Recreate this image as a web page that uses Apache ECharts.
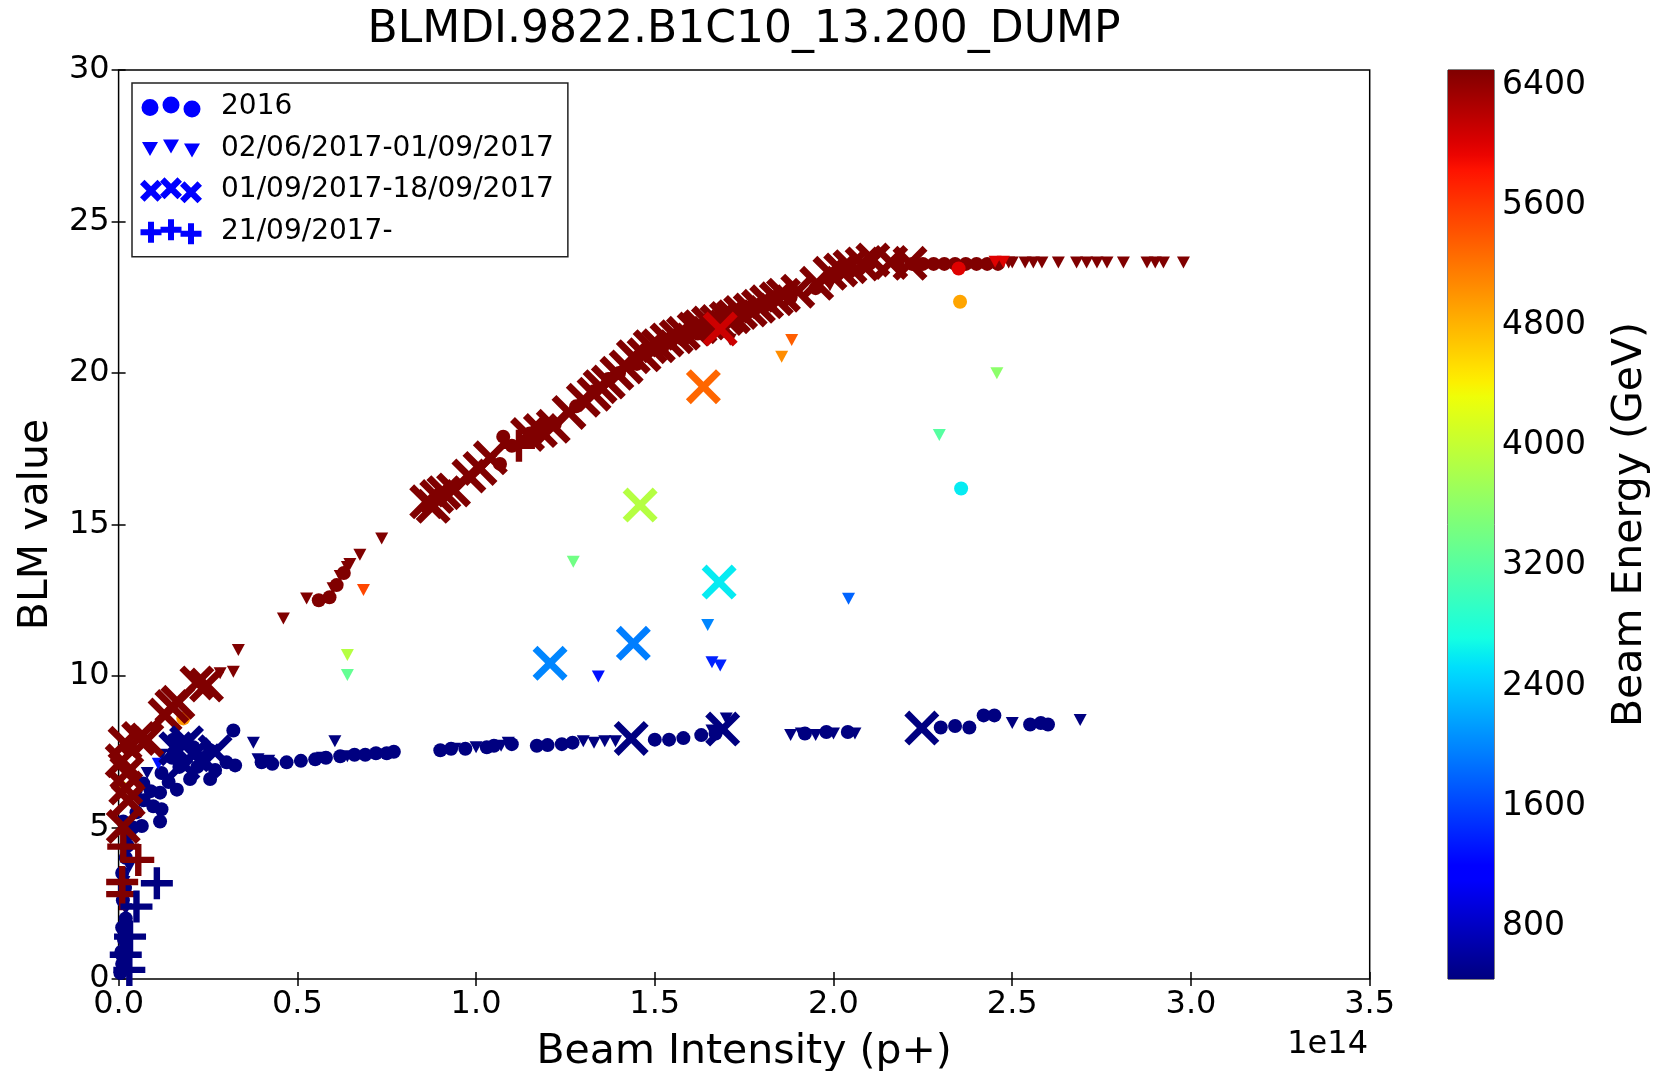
<!DOCTYPE html>
<html><head><meta charset="utf-8">
<script src="https://cdn.jsdelivr.net/npm/echarts@6/dist/echarts.min.js"></script>
<style>html,body{margin:0;padding:0;background:#fff}#c{width:1661px;height:1071px}</style>
</head><body><div id="c"></div>
<script>
// ---------------- DATA ----------------
const titleText = 'BLMDI.9822.B1C10_13.200_DUMP';
const seriesNames = ['2016', '02/06/2017-01/09/2017', '01/09/2017-18/09/2017', '21/09/2017-'];
const xRange = [0, 3.5];          // in units of 1e14 p+
const xStep = 0.5;
const yRange = [0, 30];
const yStep = 5;
const energyRange = [450, 6500];  // GeV
const energyTicks = [800, 1600, 2400, 3200, 4000, 4800, 5600, 6400];

// [intensity (1e14), BLM value, beam energy GeV]
const data2016 = [
  [0.005,0.2,450],[0.01,0.5,450],[0.008,0.9,450],[0.015,1.3,450],[0.01,1.7,450],[0.02,2.0,450],
  [0.012,2.6,450],[0.018,3.0,450],[0.01,3.5,450],[0.02,4.0,450],[0.025,4.4,450],[0.03,4.8,450],
  [0.013,5.2,450],[0.04,5.0,450],[0.065,5.05,450],[0.097,5.7,450],[0.12,5.6,450],[0.116,5.2,450],
  [0.05,5.5,450],[0.07,5.9,450],[0.069,6.45,450],[0.09,6.2,450],[0.116,6.15,450],[0.163,6.25,450],
  [0.14,6.5,450],[0.2,6.6,450],[0.256,6.6,450],[0.12,6.8,450],[0.17,7.0,450],[0.22,7.0,450],
  [0.27,6.9,450],[0.302,7.15,450],[0.326,7.05,450],[0.24,7.3,450],[0.15,7.3,450],[0.209,7.65,450],
  [0.256,7.55,450],[0.153,7.9,450],[0.321,8.2,450],
  [0.40,7.15,450],[0.43,7.1,450],[0.47,7.15,450],[0.51,7.2,450],[0.55,7.25,450],[0.58,7.3,450],
  [0.62,7.35,450],[0.66,7.4,450],[0.69,7.4,450],[0.72,7.45,450],[0.75,7.45,450],[0.77,7.5,450],
  [0.90,7.55,450],[0.93,7.6,450],[0.97,7.6,450],[1.03,7.65,450],[1.05,7.7,450],[1.10,7.75,450],
  [1.17,7.7,450],[1.20,7.72,450],[1.24,7.75,450],[1.27,7.8,450],[1.50,7.9,450],[1.54,7.9,450],
  [1.58,7.95,450],[1.63,8.05,450],[1.67,8.1,450],[1.92,8.1,450],[1.98,8.15,450],[2.04,8.15,450],
  [2.30,8.3,450],[2.34,8.35,450],[2.38,8.3,450],[2.42,8.7,450],[2.45,8.7,450],[2.55,8.4,450],
  [2.58,8.45,450],[2.60,8.4,450],
  [0.56,12.5,6500],[0.59,12.6,6500],[0.61,13.0,6500],[0.63,13.4,6500],[1.067,17.0,6500],[1.076,17.9,6500],
  [1.10,17.6,6500],[1.15,18.0,6500],[1.22,18.3,6500],[1.28,18.9,6500],[1.33,19.4,6500],[1.37,19.8,6500],
  [1.40,20.0,6500],[1.45,20.3,6500],[1.52,20.8,6500],[1.58,21.1,6500],[1.62,21.3,6500],[1.70,21.7,6500],
  [1.75,21.9,6500],[1.82,22.3,6500],[1.88,22.5,6500],[1.95,22.8,6500],[2.00,23.2,6500],[2.05,23.4,6500],
  [2.10,23.6,6500],[2.18,23.6,6500],[2.22,23.6,6500],[2.25,23.6,6500],[2.28,23.6,6500],[2.31,23.6,6500],
  [2.34,23.6,6500],[2.37,23.6,6500],[2.40,23.6,6500],[2.43,23.6,6500],[2.46,23.6,6500],
  [2.35,23.45,6000],[2.354,22.35,4900],[2.357,16.19,2600],[0.009,6.3,4400],[0.181,8.6,5000]
];
const dataJunAug2017 = [
  [0.284,10.09,6500],[0.321,10.14,6500],[0.335,10.86,6500],[0.461,11.9,6500],[0.526,12.56,6500],
  [0.60,12.9,6500],[0.62,13.3,6500],[0.64,13.6,6500],[0.647,13.7,6500],[0.675,14.0,6500],[0.736,14.54,6500],
  [1.711,21.1,6500],[1.99,22.9,6500],
  [2.49,23.65,6500],[2.50,23.65,6500],[2.536,23.65,6500],[2.559,23.65,6500],[2.583,23.65,6500],
  [2.629,23.65,6500],[2.68,23.65,6500],[2.708,23.65,6500],[2.737,23.65,6500],[2.765,23.65,6500],
  [2.811,23.65,6500],[2.877,23.65,6500],[2.90,23.65,6500],[2.923,23.65,6500],[2.979,23.65,6500],
  [0.377,7.8,450],[0.39,7.25,450],[0.42,7.2,450],[0.605,7.85,450],[0.57,7.3,450],[0.64,7.35,450],
  [0.94,7.6,450],[1.0,7.65,450],[1.07,7.7,450],[1.09,7.8,450],[1.30,7.85,450],[1.33,7.8,450],
  [1.36,7.85,450],[1.39,7.85,450],[1.66,8.2,450],[1.70,8.6,450],[1.88,8.05,450],[1.91,8.1,450],
  [1.95,8.05,450],[2.0,8.1,450],[2.06,8.1,450],[2.50,8.45,450],[2.69,8.55,450],
  [0.01,0.5,450],[0.02,1.5,450],[0.015,3.2,450],[0.03,3.7,450],[0.02,2.3,450],[0.05,6.0,450],
  [0.08,6.8,450],[0.12,7.4,450],
  [0.111,7.1,1300],[0.64,10.69,3900],[0.64,10.03,3300],[0.685,12.84,5500],[1.272,13.77,3400],
  [1.342,9.98,1300],[1.648,11.68,2000],[1.66,10.45,1400],[1.683,10.35,1400],[2.042,12.55,1800],
  [1.855,20.54,5050],[1.883,21.09,5350],[2.457,19.99,3600],[2.296,17.95,3200],
  [2.452,23.67,6000],[2.475,23.67,6000]
];
const dataSep2017a = [
  [0.018,7.78,6500],[0.023,6.8,6500],[0.027,5.9,6500],[0.013,5.03,6500],[0.01,7.2,6500],[0.02,6.3,6500],
  [0.056,7.94,6500],[0.079,7.89,6500],[0.13,8.71,6500],[0.149,8.99,6500],[0.166,9.13,6500],
  [0.219,9.77,6500],[0.246,9.7,6500],
  [0.862,15.75,6500],[0.88,15.6,6500],[0.89,15.92,6500],[0.91,16.05,6500],[0.937,16.14,6500],
  [0.98,16.6,6500],[1.011,16.85,6500],[1.04,17.2,6500],[1.144,17.97,6500],[1.18,18.1,6500],
  [1.216,18.24,6500],[1.26,18.7,6500],[1.30,19.1,6500],[1.33,19.3,6500],[1.347,19.55,6500],
  [1.37,19.7,6500],[1.394,19.99,6500],[1.42,20.2,6500],[1.44,20.54,6500],[1.47,20.6,6500],
  [1.487,20.87,6500],[1.51,20.9,6500],[1.534,21.09,6500],[1.56,21.2,6500],[1.58,21.31,6500],
  [1.61,21.45,6500],[1.627,21.53,6500],[1.65,21.65,6500],[1.674,21.7,6500],[1.70,21.8,6500],
  [1.72,21.86,6500],[1.74,22.0,6500],[1.767,22.08,6500],[1.79,22.2,6500],[1.813,22.35,6500],
  [1.84,22.45,6500],[1.86,22.57,6500],[1.90,22.7,6500],[1.953,22.96,6500],[1.99,23.29,6500],
  [2.02,23.4,6500],[2.046,23.51,6500],[2.08,23.6,6500],[2.11,23.73,6500],[2.16,23.65,6500],
  [2.214,23.62,6500],
  [1.683,21.45,6100],[1.636,19.55,5300],[1.459,15.64,3900],[1.68,13.1,2600],[1.207,10.42,2000],
  [1.44,11.08,1950],
  [1.434,7.94,450],[1.69,8.25,450],[2.247,8.28,450],[0.16,7.6,450],[0.19,7.8,450],[0.21,7.4,450],
  [0.24,7.2,450],[0.27,7.5,450],[0.18,7.1,450]
];
const dataSep2017b = [
  [1.12,17.6,6500],[0.055,3.93,6500],[0.013,4.37,6500],[0.01,3.2,6500],[0.01,2.8,6500],
  [0.107,3.16,450],[0.05,2.39,450],[0.032,1.4,450],[0.02,0.8,450],[0.03,0.3,450]
];

// ---------------- COLORMAP (matplotlib jet) ----------------
const jetSeg = {
  r: [[0,0],[0.35,0],[0.66,1],[0.89,1],[1,0.5]],
  g: [[0,0],[0.125,0],[0.375,1],[0.64,1],[0.91,0],[1,0]],
  b: [[0,0.5],[0.11,1],[0.34,1],[0.65,0],[1,0]]
};
function seg(arr, t) {
  for (let i = 1; i < arr.length; i++) {
    if (t <= arr[i][0]) { const [t0,v0] = arr[i-1], [t1,v1] = arr[i]; return v0 + (v1-v0)*(t-t0)/(t1-t0); }
  }
  return arr[arr.length-1][1];
}
function jet(t) {
  const c = [seg(jetSeg.r,t), seg(jetSeg.g,t), seg(jetSeg.b,t)].map(v => Math.round(v*255));
  return 'rgb(' + c.join(',') + ')';
}
const NC = 64, jetColors = [], jetStops = [];
for (let i = 0; i <= NC; i++) { jetColors.push(jet(i/NC)); jetStops.push({offset: i/NC, color: jet(i/NC)}); }

// ---------------- SYMBOLS ----------------
const X_PATH = 'path://M0,14 L14,0 L50,36 L86,0 L100,14 L64,50 L100,86 L86,100 L50,64 L14,100 L0,86 L36,50 Z';
const PLUS_PATH = 'path://M40,0 H60 V40 H100 V60 H60 V100 H40 V60 H0 V40 H40 Z';
const IW = 62, IH = 26;
const bboxPts = 'M0,0 L0.01,0 L0,0.01 Z M' + IW + ',' + IH + ' L' + (IW-0.01) + ',' + IH + ' L' + IW + ',' + (IH-0.01) + ' Z ';
const icX = [10, 31, 52], icY = [13.5, 11, 15];
function circ(cx, cy, r) { return 'M' + (cx-r) + ',' + cy + ' A' + r + ',' + r + ' 0 1,0 ' + (cx+r) + ',' + cy + ' A' + r + ',' + r + ' 0 1,0 ' + (cx-r) + ',' + cy + ' Z '; }
function tri(cx, cy, w, h) { return 'M' + (cx-w/2) + ',' + (cy-h/2) + ' L' + (cx+w/2) + ',' + (cy-h/2) + ' L' + cx + ',' + (cy+h/2) + ' Z '; }
function xm(cx, cy, h, d) {
  const p = [[cx-h,cy-h+d],[cx-h+d,cy-h],[cx,cy-d],[cx+h-d,cy-h],[cx+h,cy-h+d],[cx+d,cy],[cx+h,cy+h-d],[cx+h-d,cy+h],[cx,cy+d],[cx-h+d,cy+h],[cx-h,cy+h-d],[cx-d,cy]];
  return 'M' + p.map(q => q[0] + ',' + q[1]).join(' L') + ' Z ';
}
function pm(cx, cy, h, t) {
  const a = t/2;
  return 'M' + (cx-a) + ',' + (cy-h) + ' L' + (cx+a) + ',' + (cy-h) + ' L' + (cx+a) + ',' + (cy-a) + ' L' + (cx+h) + ',' + (cy-a) + ' L' + (cx+h) + ',' + (cy+a) + ' L' + (cx+a) + ',' + (cy+a) + ' L' + (cx+a) + ',' + (cy+h) + ' L' + (cx-a) + ',' + (cy+h) + ' L' + (cx-a) + ',' + (cy+a) + ' L' + (cx-h) + ',' + (cy+a) + ' L' + (cx-h) + ',' + (cy-a) + ' L' + (cx-a) + ',' + (cy-a) + ' Z ';
}
const legendIcons = [
  'path://' + bboxPts + icX.map((x,i) => circ(x, icY[i], 8.5)).join(''),
  'path://' + bboxPts + icX.map((x,i) => tri(x, icY[i], 16, 14)).join(''),
  'path://' + bboxPts + [11,31,51].map((x,i) => xm(x, icY[i], 11, 4.5)).join(''),
  'path://' + bboxPts + [11,31,51].map((x,i) => pm(x, icY[i], 10.5, 6)).join('')
];

// ---------------- CHART ----------------
const chart = echarts.init(document.getElementById('c'), null, {renderer: 'canvas'});
const FONT = 'DejaVu Sans';
const black = '#000';
const tickStyle = {show: true, inside: true, length: 7, lineStyle: {color: black, width: 1.5}};

function scat(i, data, symbol, size, rotate) {
  return {
    name: seriesNames[i], type: 'scatter', xAxisIndex: 0, yAxisIndex: 0,
    data: data, symbol: symbol, symbolSize: size, symbolRotate: rotate || 0,
    itemStyle: {opacity: 1}, emphasis: {disabled: true}, animation: false, z: 3 + i
  };
}

const option = {
  animation: false,
  backgroundColor: '#fff',
  textStyle: {fontFamily: FONT, color: black},
  title: [
    {text: titleText, left: 744, top: 9, textAlign: 'center', padding: 0,
     textStyle: {fontFamily: FONT, fontSize: 44, fontWeight: 'normal', color: black}},
    {text: '1e14', right: 293, top: 1029, padding: 0,
     textStyle: {fontFamily: FONT, fontSize: 32, fontWeight: 'normal', color: black}}
  ],
  legend: {
    orient: 'vertical', left: 132, top: 83,
    padding: [9, 14, 10, 8], itemGap: 11.6,
    itemWidth: IW, itemHeight: IH,
    backgroundColor: '#fff', borderColor: '#222', borderWidth: 1.5,
    selectedMode: false,
    textStyle: {fontFamily: FONT, fontSize: 28, color: black, lineHeight: 30, padding: [0, 0, 0, 14]},
    data: seriesNames.map((n, i) => ({name: n, icon: legendIcons[i], itemStyle: {color: '#0000ff', borderWidth: 0}}))
  },
  visualMap: {
    type: 'continuous', show: false, min: energyRange[0], max: energyRange[1],
    dimension: 2, seriesIndex: [0, 1, 2, 3], inRange: {color: jetColors}
  },
  grid: [
    {left: 118.6, top: 70, width: 1251.1, height: 909, show: true, borderColor: black, borderWidth: 1.5,
     backgroundColor: 'transparent', outerBoundsMode: 'none', containLabel: false},
    {left: 1448, top: 70, width: 46, height: 909, show: true, borderColor: black, borderWidth: 1,
     backgroundColor: 'transparent', outerBoundsMode: 'none', containLabel: false}
  ],
  xAxis: [
    {type: 'value', gridIndex: 0, min: xRange[0], max: xRange[1], interval: xStep, position: 'bottom',
     axisLine: {show: false}, axisTick: tickStyle, splitLine: {show: false},
     axisLabel: {fontFamily: FONT, fontSize: 32, color: black, margin: 10, formatter: v => v.toFixed(1)},
     name: 'Beam Intensity (p+)', nameLocation: 'middle', nameGap: 53,
     nameTextStyle: {fontFamily: FONT, fontSize: 41, color: black}},
    {type: 'value', gridIndex: 0, min: xRange[0], max: xRange[1], interval: xStep, position: 'top',
     axisLine: {show: false}, axisTick: tickStyle, axisLabel: {show: false}, splitLine: {show: false}},
    {type: 'category', gridIndex: 1, data: ['cb'], show: false, boundaryGap: true}
  ],
  yAxis: [
    {type: 'value', gridIndex: 0, min: yRange[0], max: yRange[1], interval: yStep, position: 'left',
     axisLine: {show: false}, axisTick: tickStyle, splitLine: {show: false},
     axisLabel: {fontFamily: FONT, fontSize: 32, color: black, margin: 9},
     name: 'BLM value', nameLocation: 'middle', nameRotate: 90, nameGap: 62,
     nameTextStyle: {fontFamily: FONT, fontSize: 41, color: black}},
    {type: 'value', gridIndex: 0, min: yRange[0], max: yRange[1], interval: yStep, position: 'right',
     axisLine: {show: false}, axisTick: tickStyle, axisLabel: {show: false}, splitLine: {show: false}},
    {type: 'value', gridIndex: 1, min: energyRange[0], max: energyRange[1], position: 'right',
     axisLine: {show: false}, splitLine: {show: false},
     axisTick: {show: true, inside: true, length: 6, lineStyle: {color: black, width: 1}, customValues: energyTicks},
     axisLabel: {fontFamily: FONT, fontSize: 33, color: black, margin: 8, customValues: energyTicks, formatter: v => String(v)},
     name: 'Beam Energy (GeV)', nameLocation: 'middle', nameRotate: 90, nameGap: 116,
     nameTextStyle: {fontFamily: FONT, fontSize: 41, color: black}}
  ],
  series: [
    scat(0, data2016, 'circle', 14),
    scat(1, dataJunAug2017, 'triangle', [13, 12], 180),
    scat(2, dataSep2017a, X_PATH, 35),
    scat(3, dataSep2017b, PLUS_PATH, 32),
    {type: 'bar', xAxisIndex: 2, yAxisIndex: 2, stack: 'cb', barWidth: '100%', silent: true,
     data: [energyRange[0]], itemStyle: {color: 'rgba(0,0,0,0)'}},
    {type: 'bar', xAxisIndex: 2, yAxisIndex: 2, stack: 'cb', barWidth: '100%', silent: true,
     data: [energyRange[1] - energyRange[0]],
     itemStyle: {color: new echarts.graphic.LinearGradient(0, 1, 0, 0, jetStops)}}
  ]
};
chart.setOption(option);
</script>
</body></html>
